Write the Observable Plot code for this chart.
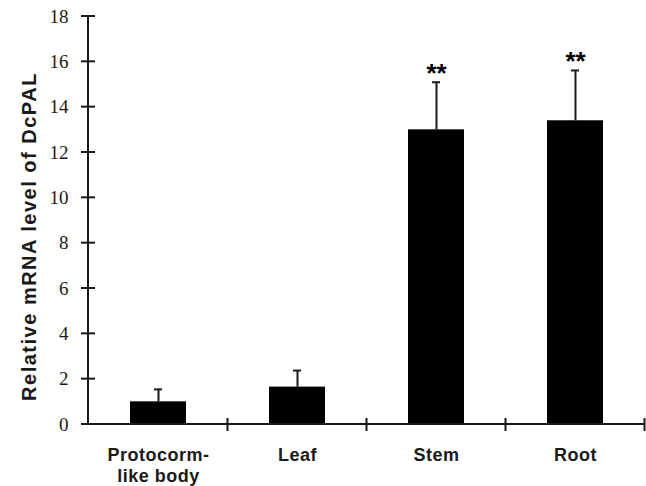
<!DOCTYPE html>
<html>
<head>
<meta charset="utf-8">
<script src="https://cdn.jsdelivr.net/npm/d3@7"></script>
<script src="https://cdn.jsdelivr.net/npm/@observablehq/plot@0.6"></script>
<style>
  html, body { margin: 0; padding: 0; background: #fff; }
  #chart svg { display: block; }
</style>
</head>
<body>
<div id="chart"></div>
<script>
const tissues = ["Protocorm-like body", "Leaf", "Stem", "Root"];
const tickLabels = ["Protocorm-\nlike body", "Leaf", "Stem", "Root"];
const values = [1.0, 1.65, 13.0, 13.4];
const errors = [0.55, 0.73, 2.1, 2.22];
const stars = ["", "", "**", "**"];
const yTicks = [0, 2, 4, 6, 8, 10, 12, 14, 16, 18];
const yLabel = "Relative mRNA level of DcPAL";

const data = tissues.map((t, i) => ({
  tissue: t, value: values[i], top: values[i] + errors[i], star: stars[i]
}));

const ink = "#1a1a1a";

function axesLines(index, scales, vals, dims) {
  const x = scales.x, y = scales.y;
  const ns = "http://www.w3.org/2000/svg";
  const g = document.createElementNS(ns, "g");
  g.setAttribute("stroke", ink);
  g.setAttribute("stroke-width", 2);
  const line = (x1, y1, x2, y2) => {
    const l = document.createElementNS(ns, "line");
    l.setAttribute("x1", x1); l.setAttribute("y1", y1);
    l.setAttribute("x2", x2); l.setAttribute("y2", y2);
    g.appendChild(l);
  };
  const left = dims.marginLeft, right = dims.width - dims.marginRight;
  const y0 = y(0);
  line(left, y(yTicks[yTicks.length - 1]), left, y0);
  for (const t of yTicks) line(left - 7, y(t), left + 7, y(t));
  line(left, y0, right, y0);
  const bw = x.bandwidth ? x.bandwidth() : 0;
  const step = x.step ? x.step() : (right - left) / tissues.length;
  for (const c of tissues) {
    const b = x(c) + bw / 2 + step / 2;
    line(b, y0 - 6, b, y0 + 7);
  }
  return g;
}

const chart = Plot.plot({
  width: 646,
  height: 486,
  marginLeft: 88,
  marginRight: 2,
  marginTop: 16,
  marginBottom: 62,
  style: { fontFamily: "Liberation Sans, Arial, sans-serif", background: "#fff" },
  x: { domain: tissues, paddingInner: 0.6, paddingOuter: 0.3, label: null, axis: null },
  y: { domain: [0, 18], label: null, axis: null },
  marks: [
    Plot.text(yTicks, {
      y: (d) => d, text: (d) => String(d), frameAnchor: "left", dx: -20,
      textAnchor: "end", lineAnchor: "middle",
      fontSize: 19, fontFamily: "Liberation Serif, Times New Roman, serif", fill: ink
    }),
    Plot.text(tissues, {
      x: (d) => d, text: (d) => tickLabels[tissues.indexOf(d)], frameAnchor: "bottom", dy: 21,
      lineAnchor: "top", textAnchor: "middle", lineHeight: 1.2,
      fontSize: 18, fontWeight: "bold", fill: ink
    }),
    Plot.barY(data, { x: "tissue", y: "value", fill: "#000" }),
    Plot.ruleX(data, { x: "tissue", y1: "value", y2: "top", stroke: ink, strokeWidth: 2 }),
    Plot.tickY(data, { x: "tissue", y: "top", insetLeft: 24, insetRight: 24, stroke: ink, strokeWidth: 2 }),
    Plot.text(data, {
      x: "tissue", y: "top", text: "star", fontSize: 26, fontWeight: "bold",
      lineAnchor: "middle", dy: -9, fill: "#000"
    }),
    Plot.text([yLabel], {
      text: (d) => d, frameAnchor: "left", rotate: -90, dx: -59, dy: 16,
      fontSize: 20, fontWeight: "bold", fill: ink, textAnchor: "middle", lineAnchor: "middle"
    }),
    axesLines
  ]
});

document.getElementById("chart").appendChild(chart);
chart.querySelectorAll("text").forEach(t => {
  if (t.textContent === yLabel) t.setAttribute("letter-spacing", "1.5");
  if (t.textContent === "Protocorm-like body" || ["Leaf", "Stem", "Root"].includes(t.textContent)) t.setAttribute("letter-spacing", "0.5");
});
</script>
</body>
</html>
